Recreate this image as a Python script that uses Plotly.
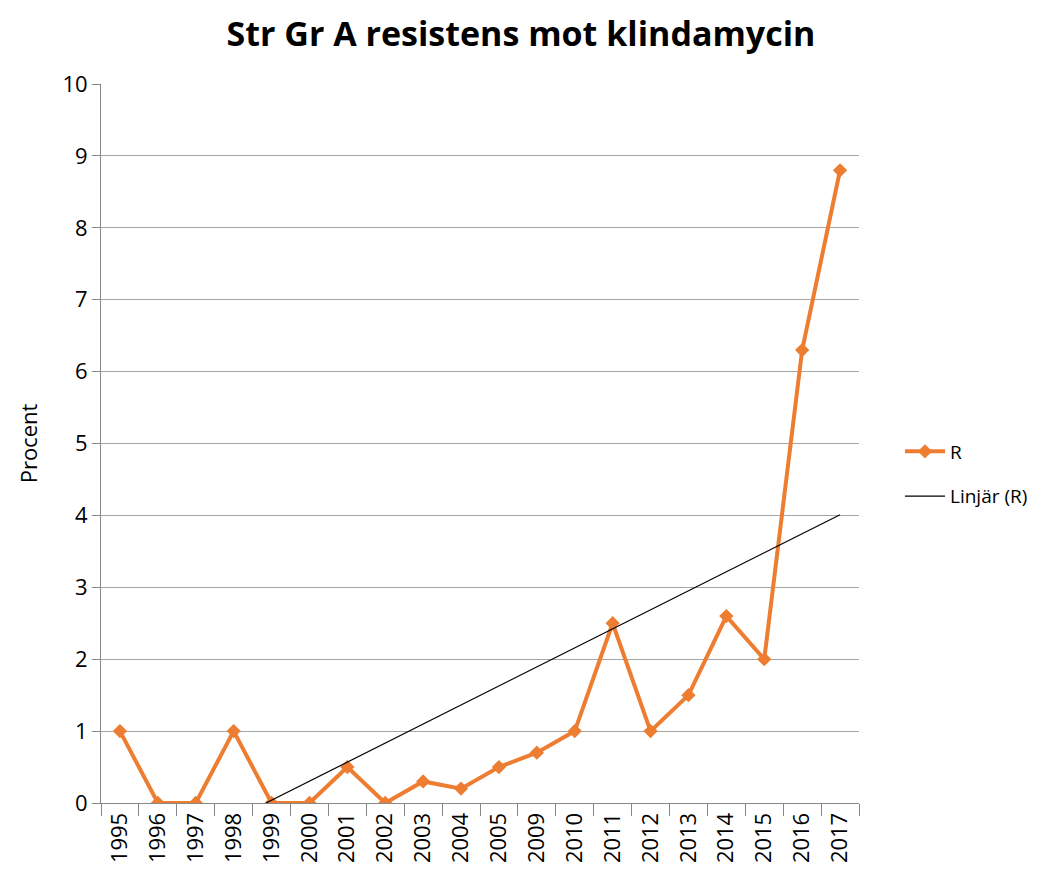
import numpy as np
import plotly.graph_objects as go

years = ["1995", "1996", "1997", "1998", "1999", "2000", "2001", "2002", "2003", "2004",
         "2005", "2009", "2010", "2011", "2012", "2013", "2014", "2015", "2016", "2017"]
r_values = [1, 0, 0, 1, 0, 0, 0.5, 0, 0.3, 0.2,
            0.5, 0.7, 1, 2.5, 1, 1.5, 2.6, 2, 6.3, 8.8]
y_ticks = list(range(0, 11))

idx = np.arange(1, len(years) + 1)
slope, intercept = np.polyfit(idx, r_values, 1)
x0 = -intercept / slope  # trend clipped at the axis minimum 0
trend_x = [x0, idx[-1]]
trend_y = [slope * x + intercept for x in trend_x]

fig = go.Figure()
fig.add_trace(go.Scatter(
    x=idx, y=r_values, mode="lines+markers", name="R", legendgroup="a",
    line=dict(color="#ED7D31", width=4),
    marker=dict(symbol="diamond", size=11, color="#ED7D31"),
))
fig.add_trace(go.Scatter(
    x=trend_x, y=trend_y, mode="lines", name="Linjär (R)", legendgroup="b",
    line=dict(color="black", width=1.2),
))

axis_col = "#888888"
W, H = 1035, 870
fig.update_layout(
    width=W, height=H,
    paper_bgcolor="white", plot_bgcolor="white",
    font=dict(family="'Open Sans', sans-serif", color="black", size=18),
    margin=dict(l=93, r=W - 851, t=76, b=H - 795, autoexpand=False),
    title=dict(text="<b>Str Gr A resistens mot klindamycin</b>", x=(521 - 8) / W, xanchor="center",
               y=1 - 26 / H, yanchor="middle", font=dict(size=34)),
    xaxis=dict(
        range=[0.5, 20.5], tickmode="array", tickvals=list(idx), ticktext=years,
        tickangle=-90, showgrid=False, zeroline=False,
        showline=True, linecolor=axis_col, linewidth=1,
        ticks="", tickfont=dict(size=22),
        minor=dict(tick0=0.5, dtick=1, ticks="outside", ticklen=12, tickcolor=axis_col, showgrid=False),
    ),
    yaxis=dict(
        range=[0, 10], tickmode="array", tickvals=y_ticks,
        showgrid=True, gridcolor="#A6A6A6", gridwidth=1, zeroline=False,
        showline=True, linecolor=axis_col, linewidth=1,
        ticks="outside", ticklen=8, tickcolor=axis_col, tickfont=dict(size=22),
        title=dict(text="Procent", font=dict(size=22), standoff=18),
    ),
    legend=dict(x=(900 - 101) / 758, y=0.4576, xanchor="left", yanchor="middle",
                font=dict(size=19), bgcolor="rgba(0,0,0,0)", tracegroupgap=17,
                itemwidth=40),
    showlegend=True,
)

fig.write_html("out.html")
